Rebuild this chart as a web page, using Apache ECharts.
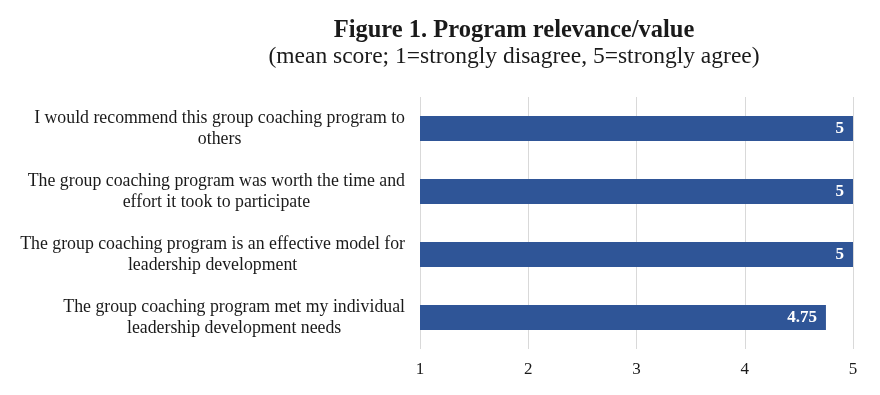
<!DOCTYPE html>
<html><head><meta charset="utf-8">
<script src="https://cdn.jsdelivr.net/npm/echarts@6/dist/echarts.min.js"></script>
<style>html,body{margin:0;padding:0;background:#fff}#c{width:880px;height:395px}</style>
</head><body><div id="c"></div>
<script>
const categories = [
  "I would recommend this group coaching program to\nothers",
  "The group coaching program was worth the time and\neffort it took to participate",
  "The group coaching program is an effective model for\nleadership development",
  "The group coaching program met my individual\nleadership development needs"
];
const meanScores = [5, 5, 5, 4.75];
const xTicks = [1, 2, 3, 4, 5];
const titleText = "Figure 1. Program relevance/value";
const subtitleText = "(mean score; 1=strongly disagree, 5=strongly agree)";

const FONT = "'Liberation Serif', 'DejaVu Serif', serif";
const chart = echarts.init(document.getElementById('c'), null, {renderer: 'canvas'});
chart.setOption({
  animation: false,
  backgroundColor: '#fff',
  title: {
    text: titleText,
    subtext: subtitleText,
    left: 509, top: 13, textAlign: 'center',
    itemGap: 2,
    textStyle: {fontFamily: FONT, fontSize: 24.5, fontWeight: 'bold', color: '#1a1a1a'},
    subtextStyle: {fontFamily: FONT, fontSize: 23.5, color: '#1a1a1a'}
  },
  grid: {left: 420, right: 27, top: 97, bottom: 46, containLabel: false},
  xAxis: {
    type: 'value', min: xTicks[0], max: xTicks[xTicks.length - 1], interval: 1,
    axisLine: {show: false}, axisTick: {show: false},
    splitLine: {show: true, lineStyle: {color: '#d9d9d9', width: 1}},
    axisLabel: {fontFamily: FONT, fontSize: 17, color: '#1a1a1a', margin: 12}
  },
  yAxis: {
    type: 'category', data: categories, inverse: true,
    axisLine: {show: false}, axisTick: {show: false},
    axisLabel: {
      margin: 15, fontFamily: FONT, fontSize: 17.8, color: '#1a1a1a', lineHeight: 21,
      formatter: v => v.split('\n').map(s => '{c|' + s + '}').join('\n'),
      rich: {c: {align: 'center', fontFamily: FONT, fontSize: 17.8, color: '#1a1a1a', lineHeight: 21}}
    }
  },
  series: [{
    type: 'bar', data: meanScores, barWidth: 25,
    itemStyle: {color: '#2F5597'},
    label: {show: true, position: 'insideRight', distance: 9, color: '#fff', fontFamily: FONT, fontSize: 17, fontWeight: 'bold'}
  }]
});
</script></body></html>
